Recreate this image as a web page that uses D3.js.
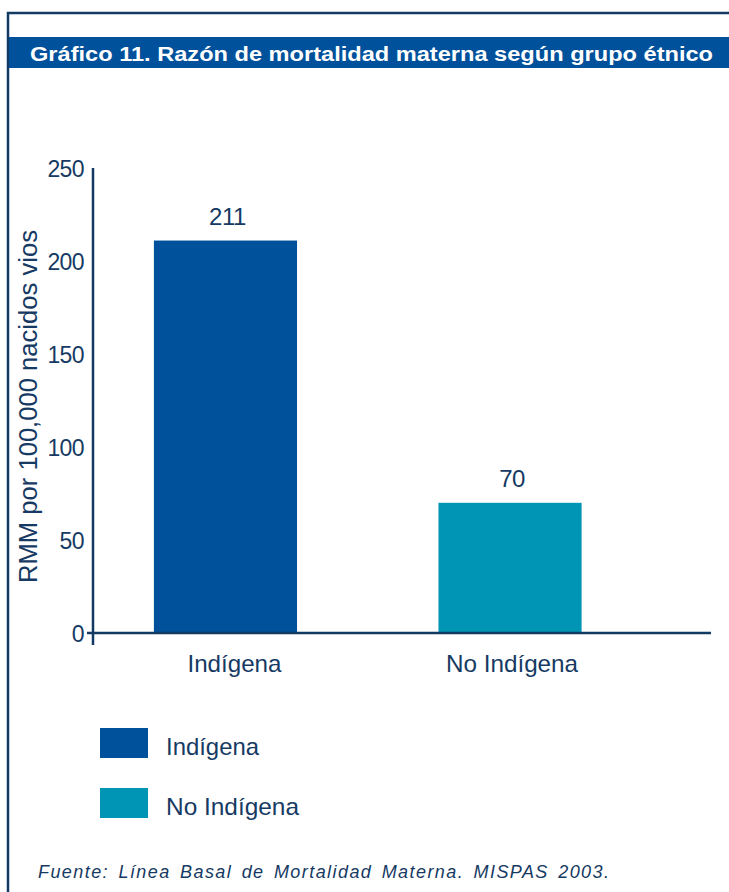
<!DOCTYPE html>
<html><head><meta charset="utf-8">
<script src="https://cdn.jsdelivr.net/npm/d3@7"></script>
<style>body{margin:0;background:#fff}svg{display:block;font-family:"Liberation Sans",Arial,sans-serif}</style>
</head><body>
<svg id="c" width="729" height="892"></svg>
<script>
const categories = ["Indígena", "No Indígena"];
const values = [211, 70];
const colors = ["#00519b", "#0095b4"];
const yTicks = [0, 50, 100, 150, 200, 250];
const title = "Gráfico 11. Razón de mortalidad materna según grupo étnico";
const yTitle = "RMM por 100,000 nacidos vios";
const source = "Fuente: Línea Basal de Mortalidad Materna. MISPAS 2003.";

const ink = "#163a63";
const FF = "Liberation Sans, Arial, sans-serif";
const svg = d3.select("#c");

function fit(sel, w) {
  sel.each(function(){
    const n = this.getComputedTextLength();
    if (n > 0) d3.select(this).attr("textLength", w).attr("lengthAdjust","spacingAndGlyphs");
  });
}

// frame
svg.append("path").attr("d","M8,892 V13 H729").attr("fill","none").attr("stroke","#123a63").attr("stroke-width",2.5);
svg.append("rect").attr("x",9).attr("y",37).attr("width",720).attr("height",31).attr("fill","#00519b");
svg.append("text").attr("x",30).attr("y",60.5).attr("fill","#fff").attr("font-weight","bold")
  .attr("font-size",20).attr("textLength",683).attr("lengthAdjust","spacingAndGlyphs").text(title);

const y = d3.scaleLinear().domain([0,250]).range([633,168]);
const x = d3.scaleBand().domain(categories).range([93,642.5]).paddingInner(0.497).paddingOuter(0.214);

// bars
svg.selectAll("rect.bar").data(values).join("rect").attr("class","bar")
  .attr("x",(d,i)=>x(categories[i])).attr("width",x.bandwidth())
  .attr("y",d=>y(d)).attr("height",d=>y(0)-y(d)).attr("fill",(d,i)=>colors[i]);

// value labels
svg.selectAll("text.val").data(values).join("text").attr("class","val")
  .attr("x",(d,i)=>x(categories[i])+x.bandwidth()/2+2).attr("y",d=>y(d)-15.5)
  .attr("text-anchor","middle").attr("font-size",24).attr("fill",ink).text(d=>d)
  .attr("letter-spacing",-0.5);

// y axis
const yAxis = svg.append("g").attr("transform","translate(93,0)")
  .call(d3.axisLeft(y).tickValues(yTicks).tickSize(0).tickPadding(9));
yAxis.select(".domain").remove();
yAxis.selectAll("text").attr("font-size",23).attr("fill",ink).attr("font-family",FF).attr("letter-spacing",-0.6).attr("dy","0.35em");
svg.append("line").attr("x1",93).attr("x2",93).attr("y1",168).attr("y2",645).attr("stroke","#123a63").attr("stroke-width",2.5);
svg.append("line").attr("x1",87).attr("x2",711).attr("y1",y(0)).attr("y2",y(0)).attr("stroke","#123a63").attr("stroke-width",2.5);

// x axis labels
const xAxis = svg.append("g").attr("transform",`translate(0,${y(0)})`)
  .call(d3.axisBottom(x).tickSize(0).tickPadding(22));
xAxis.select(".domain").remove();
const xw = [94, 132];
const xdx = [9, 2];
xAxis.selectAll("text").attr("font-size",24).attr("fill",ink).attr("font-family",FF)
  .attr("dy",null).attr("y",39)
  .each(function(d,i){ d3.select(this).attr("x", xdx[i]).call(fit, xw[i]); });

// y title
svg.append("text").attr("transform","translate(37,406.5) rotate(-90)").attr("text-anchor","middle")
  .attr("font-size",25).attr("fill",ink).text(yTitle).call(fit, 353);

// legend
const lg = svg.append("g");
const lw = [93, 133];
categories.forEach((c,i)=>{
  lg.append("rect").attr("x",100).attr("y",728+i*60).attr("width",48).attr("height",30).attr("fill",colors[i]);
  lg.append("text").attr("x",166).attr("y",755+i*60).attr("font-size",24).attr("fill",ink).text(c).call(fit, lw[i]);
});

// source
const src = svg.append("text").attr("x",38).attr("y",878).attr("font-size",18).attr("font-style","italic")
  .attr("fill",ink).attr("word-spacing",3).text(source);
const nat = src.node().getComputedTextLength();
src.attr("letter-spacing", (571 - nat) / (source.length - 1));
</script>
</body></html>
